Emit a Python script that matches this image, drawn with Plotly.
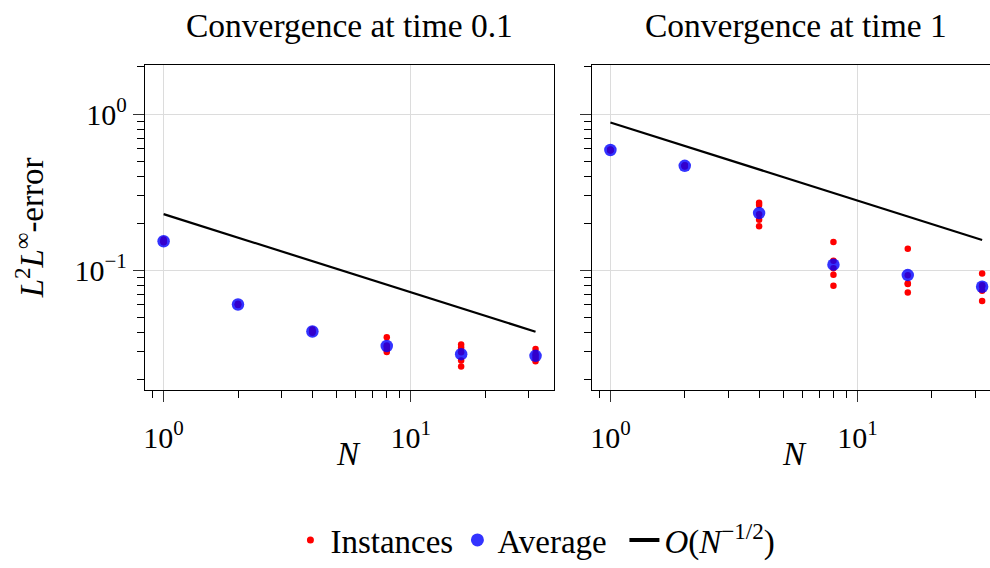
import plotly.graph_objects as go

# ---------------- data ----------------
N = [1, 2, 4, 8, 16, 32]

# instances (5 per N) at time 0.1
inst_t01 = [
    [0.151, 0.152, 0.153, 0.154, 0.157],
    [0.0598, 0.0600, 0.0603, 0.0606, 0.0610],
    [0.0398, 0.0402, 0.0405, 0.0410, 0.0418],
    [0.0299, 0.0310, 0.0322, 0.0330, 0.0372],
    [0.0242, 0.0264, 0.0298, 0.0320, 0.0334],
    [0.0261, 0.0272, 0.0282, 0.0291, 0.0313],
]
avg_t01 = [0.1532, 0.0603, 0.0405, 0.0327, 0.0290, 0.0283]
ref_t01 = [0.2287, 0.1617, 0.1144, 0.0809, 0.0572, 0.0404]

# instances (5 per N) at time 1
inst_t1 = [
    [0.583, 0.586, 0.588, 0.590, 0.593],
    [0.462, 0.465, 0.466, 0.468, 0.470],
    [0.191, 0.210, 0.228, 0.261, 0.270],
    [0.0796, 0.0936, 0.103, 0.1148, 0.1516],
    [0.0719, 0.0815, 0.0823, 0.093, 0.137],
    [0.0636, 0.0740, 0.0790, 0.0800, 0.0954],
]
avg_t1 = [0.588, 0.466, 0.232, 0.1085, 0.0931, 0.0784]
ref_t1 = [0.883, 0.624, 0.4415, 0.312, 0.2208, 0.1561]

titles = ["Convergence at time 0.1", "Convergence at time 1"]
x_major = [1, 10]
x_major_text = ["10<sup>0</sup>", "10<sup>1</sup>"]
x_minor = [0.9, 2, 3, 4, 5, 6, 7, 8, 9, 20, 30]
y_major = [0.1, 1]
y_major_text = ["10<sup>\u22121</sup>", "10<sup>0</sup>"]
y_minor = [0.02, 0.03, 0.04, 0.05, 0.06, 0.07, 0.08, 0.09,
           0.2, 0.3, 0.4, 0.5, 0.6, 0.7, 0.8, 0.9, 2]

FONT = "'Liberation Serif', 'Times New Roman', Times, 'DejaVu Serif', serif"
RED = "#ff0000"
BLUE = "rgba(0,0,255,0.8)"

fig = go.Figure()

panels = [(inst_t01, avg_t01, ref_t01, "x", "y"),
          (inst_t1, avg_t1, ref_t1, "x2", "y2")]
for inst, avg, ref, xa, ya in panels:
    xs, ys = [], []
    for n, vals in zip(N, inst):
        for v in vals:
            xs.append(n)
            ys.append(v)
    fig.add_trace(go.Scatter(x=N, y=ref, mode="lines",
                             line=dict(color="black", width=2.2),
                             xaxis=xa, yaxis=ya, showlegend=False))
    fig.add_trace(go.Scatter(x=xs, y=ys, mode="markers",
                             marker=dict(color=RED, size=6.5, line=dict(width=0)),
                             xaxis=xa, yaxis=ya, showlegend=False))
    fig.add_trace(go.Scatter(x=N, y=avg, mode="markers",
                             marker=dict(color=BLUE, size=12.5, line=dict(width=0)),
                             xaxis=xa, yaxis=ya, showlegend=False))

# legend-only entries
fig.add_trace(go.Scatter(x=[None], y=[None], mode="markers", name="Instances",
                         marker=dict(color=RED, size=7)))
fig.add_trace(go.Scatter(x=[None], y=[None], mode="markers", name="Average",
                         marker=dict(color=BLUE, size=13)))
fig.add_trace(go.Scatter(x=[None], y=[None], mode="lines",
                         name="<i>O</i>(<i>N</i><sup>\u22121/2</sup>)",
                         line=dict(color="black", width=4)))

tickfont = dict(family=FONT, size=30, color="black")

def xaxis(domain, rng, anchor):
    return dict(type="log", domain=domain, range=rng, anchor=anchor,
                tickmode="array", tickvals=x_major, ticktext=x_major_text,
                ticks="outside", ticklen=11, tickwidth=1.2, tickcolor="#333",
                ticklabelstandoff=10,
                showline=True, linecolor="black", linewidth=1.3, mirror=True,
                showgrid=True, gridcolor="#dcdcdc", gridwidth=1.3,
                zeroline=False, tickfont=tickfont,
                minor=dict(tickmode="array", tickvals=x_minor, ticks="outside",
                           ticklen=7, tickwidth=1, tickcolor="black", showgrid=False))

def yaxis(domain, anchor, labels, mirror):
    return dict(type="log", domain=domain, range=[-1.765, 0.313], anchor=anchor,
                tickmode="array", tickvals=y_major, ticktext=y_major_text,
                showticklabels=labels,
                ticks="outside", ticklen=11, tickwidth=1.2, tickcolor="#333",
                showline=True, linecolor="black", linewidth=1.3, mirror=mirror,
                showgrid=True, gridcolor="#dcdcdc", gridwidth=1.3,
                zeroline=False, tickfont=tickfont,
                minor=dict(tickmode="array", tickvals=y_minor, ticks="outside",
                           ticklen=7, tickwidth=1, tickcolor="black", showgrid=False))

ydom = [1 - 401 / 568, 1 - 67 / 568]
fig.update_layout(
    width=990, height=568,
    margin=dict(l=0, r=0, t=0, b=0),
    paper_bgcolor="white", plot_bgcolor="white",
    font=dict(family=FONT, size=30, color="black"),
    xaxis=xaxis([143.3 / 990, 553.3 / 990], [-0.0753, 1.5806], "y"),
    xaxis2=xaxis([591 / 990, 1.0], [-0.0753, 1.537], "y2"),
    yaxis=yaxis(ydom, "x", True, True),
    yaxis2=yaxis(ydom, "x2", False, False),
    legend=dict(orientation="h", x=289 / 990, xanchor="left", y=1 - 556 / 568,
                yanchor="middle", font=dict(family=FONT, size=33),
                itemwidth=30, entrywidth=122, tracegroupgap=0,
                bgcolor="rgba(0,0,0,0)"),
    showlegend=True,
)

ann = [
    dict(text=titles[0], x=348 / 990, y=1 - 26 / 568, size=33.5),
    dict(text=titles[1], x=796 / 990, y=1 - 26 / 568, size=33.5),
    dict(text="<i>N</i>", x=347 / 990, y=1 - 467 / 568, size=33),
    dict(text="<i>N</i>", x=794 / 990, y=1 - 467 / 568, size=33),
]
for a in ann:
    fig.add_annotation(xref="paper", yref="paper", x=a["x"], y=a["y"],
                       text=a["text"], showarrow=False, xanchor="center",
                       yanchor="middle", font=dict(family=FONT, size=a["size"]))
fig.add_annotation(xref="paper", yref="paper", x=28 / 990, y=1 - 234 / 568,
                   text="<i>L</i><sup>2</sup><i>L</i><sup>\u221e</sup>-error",
                   showarrow=False, textangle=-90, xanchor="center",
                   yanchor="middle", font=dict(family=FONT, size=33))

fig.write_html("out.html")
